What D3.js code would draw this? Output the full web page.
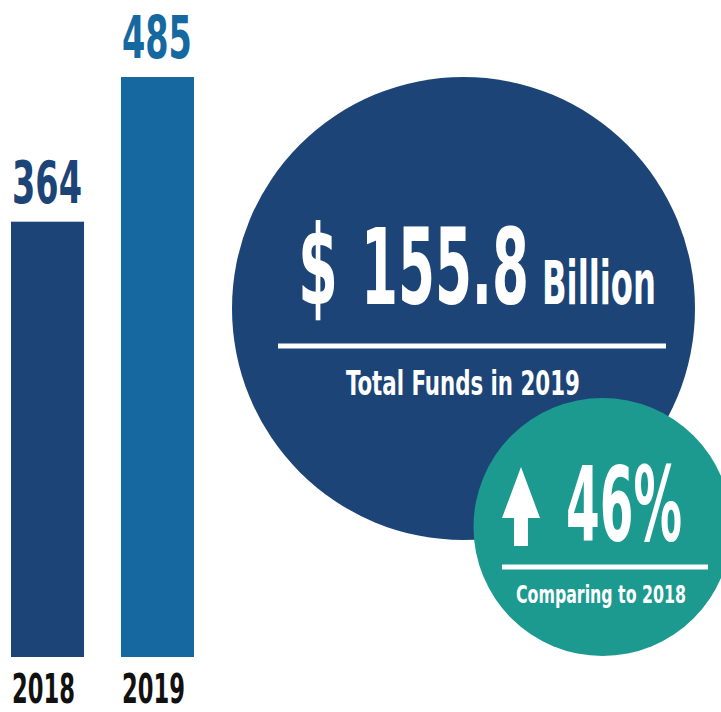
<!DOCTYPE html>
<html>
<head>
<meta charset="utf-8">
<script src="https://cdn.jsdelivr.net/npm/d3@7"></script>
<style>
  body { margin: 0; background: #fff; }
  text { font-family: "DejaVu Sans Condensed", "DejaVu Sans", sans-serif; font-weight: bold; }
</style>
</head>
<body>
<div id="chart"></div>
<script>
// chart data
const years = ["2018", "2019"];
const counts = [364, 485];
const barColors = ["#1d4477", "#1668a1"];
const totalFunds = 155.8;
const totalLabel = "Total Funds in 2019";
const growthPct = 46;
const growthLabel = "Comparing to 2018";

const width = 721, height = 712;

const svg = d3.select("#chart")
    .append("svg")
    .attr("width", width)
    .attr("height", height);

// squeeze a text horizontally so it spans w pixels, like a condensed face
function fit(sel, x, y, w) {
    sel.each(function() {
        const len = this.getComputedTextLength();
        d3.select(this).attr("transform", `translate(${x},${y}) scale(${w / len},1)`);
    });
    return sel;
}

const x = d3.scaleBand()
    .domain(years)
    .range([11, 194])
    .paddingInner(0.336)
    .paddingOuter(0);

const y = d3.scaleLinear()
    .domain([0, 485])
    .range([657, 77]);

const data = years.map((yr, i) => ({ year: yr, value: counts[i], color: barColors[i] }));

svg.selectAll("rect.bar")
    .data(data)
    .enter()
    .append("rect")
    .attr("class", "bar")
    .attr("x", d => x(d.year))
    .attr("y", d => y(d.value))
    .attr("width", x.bandwidth())
    .attr("height", d => y(0) - y(d.value))
    .attr("fill", d => d.color);

// value labels above bars
svg.selectAll("text.val")
    .data(data)
    .enter()
    .append("text")
    .attr("class", "val")
    .attr("fill", d => d.color)
    .style("font-size", "59px")
    .text(d => d.value)
    .each(function(d) { fit(d3.select(this), x(d.year) + 1, y(d.value) - 19, 70); });

// year labels (kept just inside the bottom edge)
svg.selectAll("text.yr")
    .data(data)
    .enter()
    .append("text")
    .attr("class", "yr")
    .attr("fill", "#111")
    .style("font-size", "40px")
    .text(d => d.year)
    .each(function(d) { fit(d3.select(this), x(d.year) + 1, 703, 63); });

// big circle: total funds
svg.append("circle")
    .attr("cx", 463.5)
    .attr("cy", 308.5)
    .attr("r", 231.5)
    .attr("fill", "#1d4477");

fit(svg.append("text").attr("fill", "#fff").style("font-size", "110px").text("$"), 298, 304, 40);
fit(svg.append("text").attr("fill", "#fff").style("font-size", "106px")
    .text(d3.format(".1f")(totalFunds)), 361, 304, 168);
fit(svg.append("text").attr("fill", "#fff").style("font-size", "60px").text("Billion"), 542, 304, 114);

svg.append("rect")
    .attr("x", 278)
    .attr("y", 343.5)
    .attr("width", 388)
    .attr("height", 5)
    .attr("fill", "#fff");

fit(svg.append("text").attr("fill", "#fff").style("font-size", "34px").text(totalLabel), 346, 395, 234);

// teal circle: growth
svg.append("circle")
    .attr("cx", 602.5)
    .attr("cy", 527)
    .attr("r", 129)
    .attr("fill", "#1c9a90");

svg.append("path")
    .attr("d", "M521,467 L540,518 L528,518 L528,546 L514,546 L514,518 L502,518 Z")
    .attr("fill", "#fff");

fit(svg.append("text").attr("fill", "#fff").style("font-size", "104px").text(growthPct + "%"), 566, 541, 116);

svg.append("rect")
    .attr("x", 502)
    .attr("y", 564.5)
    .attr("width", 206)
    .attr("height", 5)
    .attr("fill", "#fff");

fit(svg.append("text").attr("fill", "#fff").style("font-size", "25px").text(growthLabel), 516, 603, 170);
</script>
</body>
</html>
